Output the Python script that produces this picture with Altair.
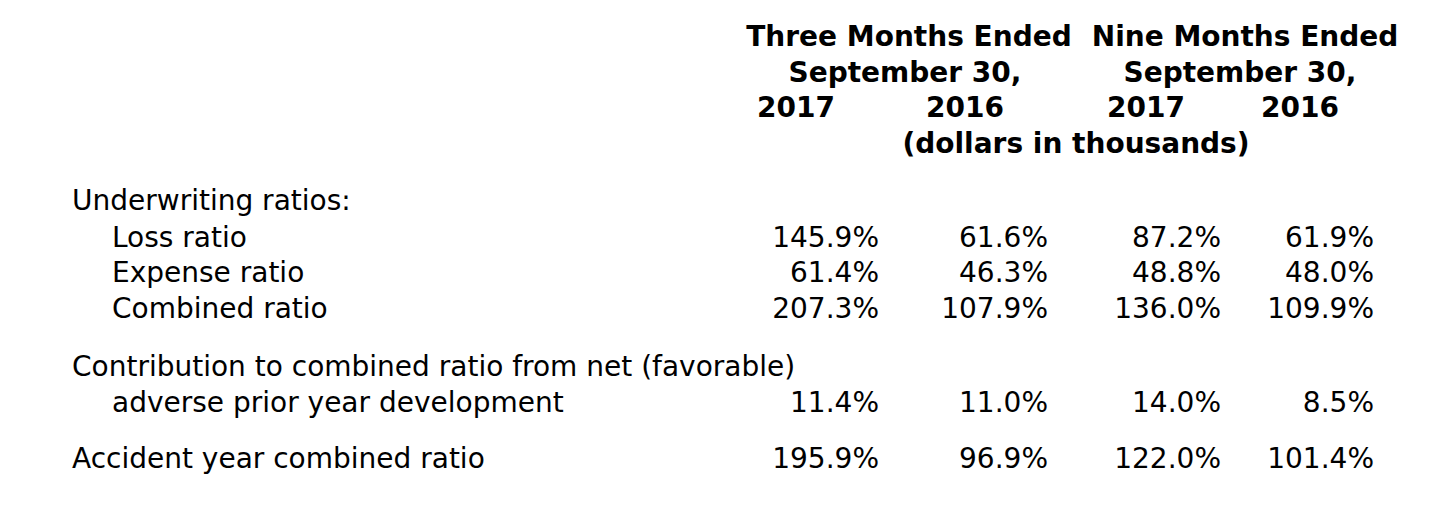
import altair as alt
import pandas as pd

# ---- data ----
header_groups = ["Three Months Ended", "Nine Months Ended"]
header_dates = ["September 30,", "September 30,"]
header_years = ["2017", "2016", "2017", "2016"]
header_units = "(dollars in thousands)"

row_labels = [
    "Underwriting ratios:",
    "Loss ratio",
    "Expense ratio",
    "Combined ratio",
    "Contribution to combined ratio from net (favorable)",
    "adverse prior year development",
    "Accident year combined ratio",
]
row_indent = [False, True, True, True, False, True, False]

q3_2017 = [None, "145.9%", "61.4%", "207.3%", None, "11.4%", "195.9%"]
q3_2016 = [None, "61.6%", "46.3%", "107.9%", None, "11.0%", "96.9%"]
ytd_2017 = [None, "87.2%", "48.8%", "136.0%", None, "14.0%", "122.0%"]
ytd_2016 = [None, "61.9%", "48.0%", "109.9%", None, "8.5%", "101.4%"]

# ---- layout (page px minus 8px margin) ----
W, H = 1424, 509
M = 8
FS = 28
FONT = "DejaVu Sans"

hdr_base = [46, 82, 117, 153]
row_base = [210, 247, 282, 318, 376, 412, 468]
label_x = [72, 112]
num_right = [879, 1048, 1221, 1374]
group_center = [909, 1245]
date_center = [905, 1240]
year_center = [796, 965, 1146, 1300]
units_center = 1076

hdr = []
for i, t in enumerate(header_groups):
    hdr.append({"t": t, "x": group_center[i] - M, "y": hdr_base[0] - M})
for i, t in enumerate(header_dates):
    hdr.append({"t": t, "x": date_center[i] - M, "y": hdr_base[1] - M})
for i, t in enumerate(header_years):
    hdr.append({"t": t, "x": year_center[i] - M, "y": hdr_base[2] - M})
hdr.append({"t": header_units, "x": units_center - M, "y": hdr_base[3] - M})
hdr_df = pd.DataFrame(hdr)

lab_df = pd.DataFrame([
    {"t": t, "x": label_x[1 if ind else 0] - M, "y": row_base[i] - M}
    for i, (t, ind) in enumerate(zip(row_labels, row_indent))
])

nums = []
for c, col in enumerate([q3_2017, q3_2016, ytd_2017, ytd_2016]):
    for i, v in enumerate(col):
        if v is not None:
            nums.append({"t": v, "x": num_right[c] - M, "y": row_base[i] - M})
num_df = pd.DataFrame(nums)

xs = alt.Scale(domain=[0, W], range=[0, W])
ys = alt.Scale(domain=[0, H], range=[0, H])


def layer(df, align, weight):
    return alt.Chart(df).mark_text(
        align=align, baseline="alphabetic", font=FONT, fontSize=FS,
        fontWeight=weight, color="black"
    ).encode(
        x=alt.X("x:Q", scale=xs, axis=None),
        y=alt.Y("y:Q", scale=ys, axis=None),
        text="t:N",
    )


chart = alt.layer(
    layer(hdr_df, "center", "bold"),
    layer(lab_df, "left", "normal"),
    layer(num_df, "right", "normal"),
).properties(
    width=W, height=H, padding=0, background="white",
    autosize=alt.AutoSizeParams(type="none"),
).configure_view(stroke=None)

chart.save("out.html", embed_options={"renderer": "svg", "actions": False})
